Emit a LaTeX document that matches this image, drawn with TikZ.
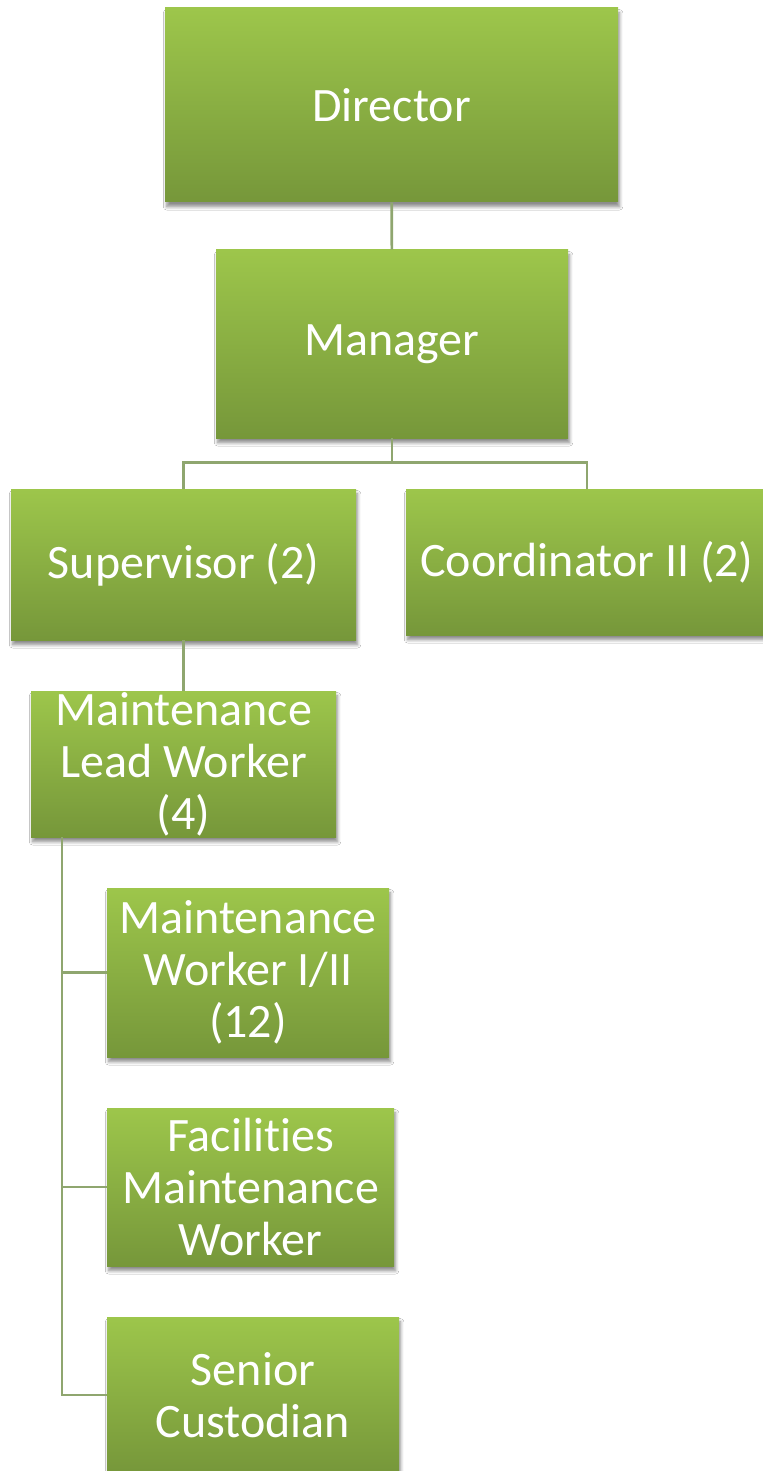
\documentclass[tikz,border=0pt]{standalone}
\usepackage{fontspec}
\setmainfont{Carlito}[Ligatures=NoCommon]
\usetikzlibrary{shadows.blur}
\definecolor{boxtop}{HTML}{9DC64B}
\definecolor{boxbot}{HTML}{76973A}
\definecolor{linkgreen}{HTML}{8FA66F}
\begin{document}
\begin{tikzpicture}[x=0.5pt,y=-0.5pt,
  post/.style={rectangle, inner sep=0pt, align=center, text=white, top color=boxtop, bottom color=boxbot, font=\fontsize{24}{26}\selectfont, blur shadow={shadow xshift=0.8pt, shadow yshift=-2.4pt, shadow opacity=45, shadow blur radius=1.6pt, shadow blur steps=6}},
  link/.style={draw=linkgreen, line width=1.3pt}]
\useasboundingbox (0,0) rectangle (763,1471);
\fill[white] (0,0) rectangle (763,1471);
\node[post, minimum width=226.5pt, minimum height=97pt] (dir) at (391.5,105) {Director};
\node[post, minimum width=176pt, minimum height=94pt] (mgr) at (392,344) {Manager};
\node[post, minimum width=172.5pt, minimum height=75.5pt] (sup) at (183.5,564.5) {Supervisor (2)};
\node[post, minimum width=181pt, minimum height=73pt] (coord) at (587,562) {Coordinator II (2)};
\node[post, minimum width=152.5pt, minimum height=73pt] (lead) at (183.5,764) {Maintenance\\Lead Worker\\(4)};
\node[post, minimum width=141pt, minimum height=84.5pt] (mw) at (248,972.5) {Maintenance\\Worker I/II\\(12)};
\node[post, minimum width=143.5pt, minimum height=79pt] (fmw) at (250.5,1187) {Facilities\\Maintenance\\Worker};
\node[post, minimum width=146pt, minimum height=78pt] (sc) at (253,1395) {Senior\\Custodian};
\coordinate (trunk) at (62,837);
\draw[link] (dir) -- (mgr);
\draw[link] (mgr.south) -- ++(0,24) -| (sup.north);
\draw[link] (mgr.south) ++(0,24) -| (coord.north);
\draw[link] (sup) -- (lead);
\draw[link] (trunk) |- (mw.west);
\draw[link] (trunk) |- (fmw.west);
\draw[link] (trunk) |- (sc.west);
\end{tikzpicture}
\end{document}
